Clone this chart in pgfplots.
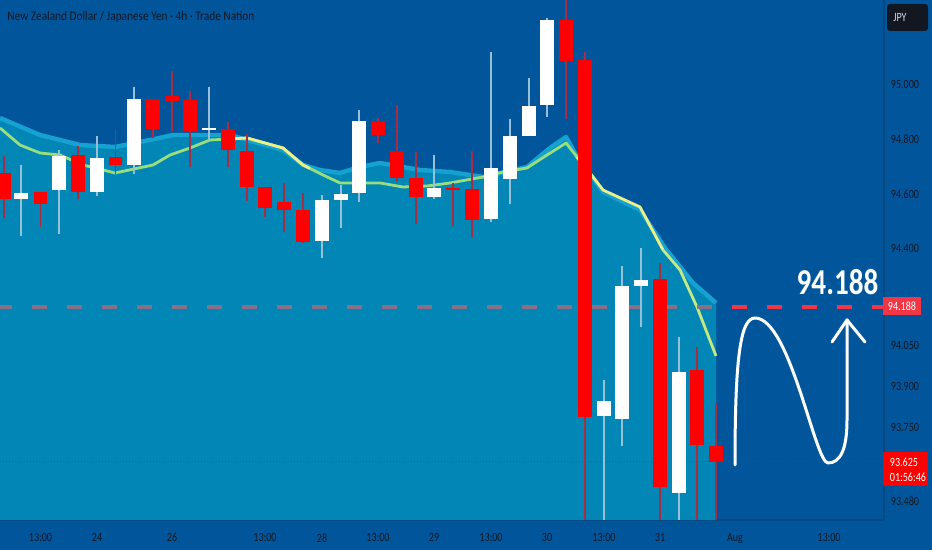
\documentclass[border=0pt]{standalone}
\usepackage{fontspec}
\setmainfont{Carlito}
\usepackage{graphicx}
\usepackage{pgfplots}
\pgfplotsset{compat=1.18}
\definecolor{bg}{RGB}{1,86,155}
\definecolor{area}{RGB}{2,134,182}
\definecolor{band}{RGB}{22,162,208}
\definecolor{magreen}{RGB}{152,222,124}
\definecolor{mayellow}{RGB}{236,240,134}
\definecolor{lab}{RGB}{19,23,34}
\definecolor{jpytext}{RGB}{209,212,220}
\definecolor{tvred}{RGB}{242,54,69}
\definecolor{dashmuted}{RGB}{138,112,132}
\definecolor{wickR}{RGB}{165,45,68}
\definecolor{wickW}{RGB}{150,192,214}
\definecolor{sep}{RGB}{6,72,128}
\newcommand\labfont{\fontsize{6.3}{7}\selectfont}
% x, open, high, low, close
\newcommand\bear[5]{%
\addplot[wickR, line width=0.6pt] coordinates {(#1,#3) (#1,#4)};
\addplot[red, line width=6.7pt] coordinates {(#1,#2) (#1,#5)};}
\newcommand\bull[5]{%
\addplot[wickW, line width=0.6pt] coordinates {(#1,#3) (#1,#4)};
\addplot[white, line width=6.7pt] coordinates {(#1,#2) (#1,#5)};}
\begin{document}
\begin{tikzpicture}
\fill[bg] (0,-15pt) rectangle (466pt,260pt);
\begin{axis}[at={(0,0)}, anchor=south west,
 width=442pt, height=260pt, scale only axis,
 xmin=0, xmax=884, ymin=93.4129, ymax=95.3066,
 axis x line=bottom, axis y line=right,
 axis line style={-, draw=sep, line width=0.6pt},
 every outer x axis line/.append style={-},
 every outer y axis line/.append style={-},
 major tick length=0pt,
 xtick={40.5,97,172,265,322,378,434,491,547,604,660,735,829},
 xticklabels={13:00,24,26,13:00,28,13:00,29,13:00,30,13:00,31,Aug,13:00},
 ytick={93.48,93.75,93.9,94.05,94.4,94.6,94.8,95.0},
 scaled y ticks=false,
 xticklabel style={font=\labfont, text=lab, xscale=0.8, yshift=-3.2pt},
 yticklabel style={font=\labfont, text=lab, xscale=0.8, xshift=0.8pt,
   /pgf/number format/fixed, /pgf/number format/fixed zerofill,
   /pgf/number format/precision=3, /pgf/number format/assume math mode=true},
]
% area under the upper average
\addplot[draw=none, fill=area] coordinates {
(0,94.8769) (40,94.8150) (80,94.7786) (115,94.7713) (150,94.7968) (173,94.8150)
(230,94.8150) (247,94.7968) (283,94.7603) (303,94.7057) (320,94.6875) (340,94.6766)
(360,94.6984) (380,94.7130) (403,94.6984) (420,94.6875) (450,94.6802) (483,94.6620)
(527,94.6984) (550,94.7676) (566,94.8077) (577,94.7349) (593,94.6584) (603,94.6074)
(640,94.5418) (665,94.4035) (693,94.2760) (716,94.2032) (716,93.30) (0,93.30)};
\addplot[band, line width=2.2pt, line join=round] coordinates {
(0,94.8769) (40,94.8150) (80,94.7786) (115,94.7713) (150,94.7968) (173,94.8150)
(230,94.8150) (247,94.7968) (283,94.7603) (303,94.7057) (320,94.6875) (340,94.6766)
(360,94.6984) (380,94.7130) (403,94.6984) (420,94.6875) (450,94.6802) (483,94.6620)
(527,94.6984) (550,94.7676) (566,94.8077) (577,94.7349) (593,94.6584) (603,94.6074)
(640,94.5418) (665,94.4035) (693,94.2760) (716,94.2032)};
% lower average
\addplot[magreen, line width=1.4pt, line join=round] coordinates {
(0,94.8405) (20,94.7786) (40,94.7494) (60,94.7421) (83,94.7057) (115,94.6766)
(153,94.7057) (170,94.7421) (190,94.7676) (210,94.7968) (230,94.8004) (247,94.8040)
(283,94.7676) (303,94.7057) (323,94.6693) (340,94.6402) (360,94.6402) (380,94.6402)
(403,94.6256) (427,94.6292) (450,94.6402) (483,94.6620) (503,94.6802) (527,94.6948)
(547,94.7421) (566,94.7858) (577,94.7349)};
\addplot[mayellow, line width=1.4pt, line join=round] coordinates {
(230,94.8004) (247,94.8040) (283,94.7676) (303,94.7057) (310,94.6930)};
\addplot[mayellow, line width=1.4pt, line join=round] coordinates {
(577,94.7349) (593,94.6620) (603,94.6147) (640,94.5528) (663,94.3962)};
\addplot[mayellow!55!magreen, line width=1.4pt, line join=round] coordinates {
(663,94.3962) (680,94.3233) (697,94.1886) (716,94.0102)};
% target line 94.188
\addplot[dashmuted, line width=2pt, dash pattern=on 7.5pt off 10pt, dash phase=1.5pt]
 coordinates {(0,94.188) (716,94.188)};
\addplot[tvred, line width=2pt, dash pattern=on 7.5pt off 10pt, dash phase=9.5pt]
 coordinates {(716,94.188) (884,94.188)};
% last price line
\addplot[red, opacity=0.7, line width=0.4pt, dash pattern=on 0.5pt off 1pt]
 coordinates {(0,93.625) (884,93.625)};
% candles
\bear{4}{94.678}{94.739}{94.513}{94.582}
\bull{21}{94.581}{94.706}{94.447}{94.605}
\bear{40.5}{94.607}{94.607}{94.480}{94.564}
\bull{59}{94.615}{94.760}{94.454}{94.739}
\bear{78}{94.742}{94.775}{94.582}{94.607}
\bull{97}{94.607}{94.811}{94.593}{94.731}
\bear{115.5}{94.735}{94.837}{94.673}{94.706}
\bull{134}{94.706}{94.990}{94.673}{94.946}
\bear{153}{94.946}{94.946}{94.804}{94.837}
\bear{172}{94.957}{95.048}{94.830}{94.939}
\bear{190}{94.942}{94.975}{94.698}{94.830}
\bull{209}{94.833}{94.990}{94.797}{94.841}
\bear{228}{94.837}{94.862}{94.698}{94.760}
\bear{247}{94.757}{94.819}{94.575}{94.626}
\bear{265}{94.626}{94.626}{94.516}{94.549}
\bear{284}{94.571}{94.640}{94.462}{94.542}
\bear{303}{94.542}{94.604}{94.422}{94.425}
\bull{322}{94.429}{94.597}{94.367}{94.578}
\bull{341}{94.578}{94.633}{94.476}{94.600}
\bull{359}{94.604}{94.906}{94.571}{94.866}
\bear{378}{94.866}{94.877}{94.786}{94.815}
\bear{397}{94.757}{94.924}{94.647}{94.658}
\bear{416}{94.658}{94.753}{94.491}{94.589}
\bull{434}{94.589}{94.742}{94.582}{94.622}
\bear{453}{94.622}{94.640}{94.484}{94.615}
\bear{472}{94.618}{94.757}{94.444}{94.505}
\bull{491}{94.509}{95.117}{94.498}{94.695}
\bull{510}{94.655}{94.873}{94.564}{94.811}
\bull{529}{94.811}{95.023}{94.811}{94.921}
\bull{547}{94.924}{95.241}{94.881}{95.234}
\bear{566}{95.234}{95.325}{94.873}{95.085}
\bear{585}{95.088}{95.117}{93.395}{93.789}
\bull{604}{93.792}{93.923}{93.395}{93.847}
\bull{622}{93.781}{94.338}{93.682}{94.265}
\bull{641}{94.265}{94.403}{94.116}{94.287}
\bear{660}{94.291}{94.349}{93.395}{93.533}
\bull{679}{93.511}{94.079}{93.395}{93.952}
\bear{697}{93.959}{94.043}{93.395}{93.686}
\bear{716}{93.683}{93.835}{93.395}{93.625}
% hand-drawn N arrow
\draw[white, line width=1.5pt, line cap=round, line join=round]
 (axis cs:735,93.6132) .. controls (axis cs:735,93.9956) and (axis cs:740,94.1485)
 .. (axis cs:755,94.1485) .. controls (axis cs:790,94.1485) and (axis cs:815,93.6205)
 .. (axis cs:828,93.6205) .. controls (axis cs:840,93.6205) and (axis cs:847,93.6678)
 .. (axis cs:847,93.7771) -- (axis cs:847,94.1413);
\draw[white, line width=1.5pt, line cap=round, line join=round]
 (axis cs:832,94.0611) -- (axis cs:847,94.1413) -- (axis cs:865,94.0611);
\end{axis}
% title
\node[anchor=base west, inner sep=0, text=lab] at (3.5pt,249.5pt)
 {\resizebox{123.5pt}{\height}{\fontsize{6.6}{7}\selectfont New Zealand Dollar / Japanese Yen · 4h · Trade Nation}};
% big label
\node[anchor=base, inner sep=0, white, font=\fontsize{18.2}{20}\selectfont\bfseries, xscale=0.8]
 at (418.75pt,112.5pt) {94.188};
% JPY box
\fill[lab, rounded corners=1.5pt] (443.5pt,244.5pt) rectangle (464pt,258pt);
\node[anchor=west, inner sep=0, text=jpytext, font=\labfont, xscale=0.8] at (446.5pt,251.3pt) {JPY};
% target label
\fill[tvred] (441.5pt,102.5pt) rectangle (460.5pt,111.5pt);
\node[inner sep=0, white, font=\labfont, xscale=0.8] at (451pt,107pt) {94.188};
% last price label
\fill[red] (441.5pt,17pt) rectangle (464pt,34pt);
\node[anchor=west, inner sep=0, white, font=\labfont, xscale=0.8] at (444.8pt,28.6pt) {93.625};
\node[anchor=west, inner sep=0, white, font=\labfont, xscale=0.8] at (444.8pt,21.4pt) {01:56:46};
\pgfresetboundingbox
\path (0,-15pt) rectangle (466pt,260pt);
\end{tikzpicture}
\end{document}
